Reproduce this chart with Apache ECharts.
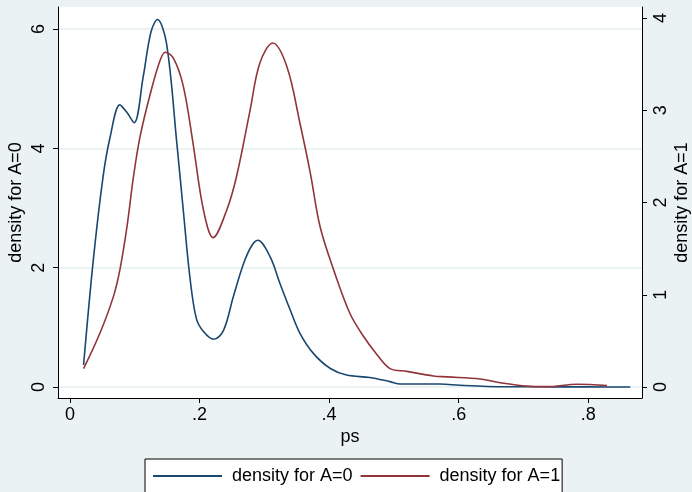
<!DOCTYPE html>
<html>
<head>
<meta charset="utf-8">
<script src="https://cdn.jsdelivr.net/npm/echarts@6/dist/echarts.min.js"></script>
<style>
html,body{margin:0;padding:0;background:#EAF2F3;}
#chart{width:692px;height:492px;}
</style>
</head>
<body>
<div id="chart"></div>
<script>
// density for A=0 (left axis)
var blueX = [0.021,0.036,0.051,0.062,0.077,0.088,0.099,0.113,0.125,0.135,0.149,0.165,0.175,0.185,0.195,0.206,0.222,0.237,0.252,0.268,0.280,0.290,0.309,0.324,0.340,0.355,0.376,0.402,0.427,0.463,0.494,0.510,0.540,0.571,0.602,0.644,0.695,0.750,0.800,0.865];
var blueY = [0.37,2.13,3.52,4.19,4.73,4.60,4.43,5.20,5.95,6.16,5.76,4.08,2.95,1.85,1.15,0.93,0.80,0.95,1.51,2.07,2.36,2.46,2.18,1.74,1.29,0.90,0.56,0.31,0.20,0.16,0.09,0.05,0.05,0.05,0.03,0.01,0.005,0.003,0.002,0.0];
// density for A=1 (right axis)
var redX = [0.021,0.046,0.067,0.077,0.088,0.098,0.108,0.124,0.139,0.147,0.160,0.175,0.190,0.206,0.221,0.242,0.257,0.278,0.293,0.313,0.335,0.355,0.371,0.386,0.407,0.432,0.453,0.474,0.494,0.520,0.561,0.582,0.633,0.664,0.705,0.736,0.783,0.829];
var redY = [0.20,0.58,0.98,1.27,1.74,2.28,2.71,3.18,3.54,3.63,3.56,3.26,2.64,1.92,1.62,1.92,2.28,3.00,3.51,3.73,3.47,2.86,2.32,1.74,1.27,0.80,0.55,0.35,0.20,0.17,0.12,0.11,0.087,0.047,0.01,0.004,0.03,0.015];
var xTicks = [0,0.2,0.4,0.6,0.8];
var leftTicks = [0,2,4,6];
var rightTicks = [0,1,2,3,4];
var seriesNames = ['density for A=0','density for A=1'];

function pairs(xs, ys){ return xs.map(function(x,i){ return [x, ys[i]]; }); }
function fmtX(v){ if (v === 0) return '0'; return String(+v.toFixed(2)).replace(/^0/, ''); }

var font = 'Liberation Sans, Arial, sans-serif';
var fs = 18;
var chart = echarts.init(document.getElementById('chart'), null, {renderer:'canvas'});
chart.setOption({
  backgroundColor: '#EAF2F3',
  animation: false,
  textStyle: {fontFamily: font},
  grid: {left: 58, right: 50, top: 7, bottom: 94, show: true, backgroundColor: '#ffffff', borderWidth: 0, containLabel: false, outerBoundsMode: 'none'},
  xAxis: {
    type: 'value', min: -0.0185, max: 0.883,
    name: 'ps', nameLocation: 'middle', nameGap: 30, nameMoveOverlap: false,
    nameTextStyle: {fontSize: fs, color: '#000', fontFamily: font},
    axisLine: {show: true, onZero: false, lineStyle: {color: '#000', width: 1}},
    axisTick: {show: true, length: 5, lineStyle: {color: '#000'}, customValues: xTicks},
    axisLabel: {fontSize: fs, color: '#000', margin: 8, fontFamily: font, customValues: xTicks, formatter: fmtX},
    splitLine: {show: false}
  },
  yAxis: [{
    type: 'value', min: -0.184, max: 6.37, position: 'left',
    name: seriesNames[0], nameLocation: 'middle', nameGap: 42, nameRotate: 90, nameMoveOverlap: false,
    nameTextStyle: {fontSize: fs, color: '#000', fontFamily: font, verticalAlign: 'middle'},
    axisLine: {show: true, onZero: false, lineStyle: {color: '#000', width: 1}},
    axisTick: {show: true, length: 5, lineStyle: {color: '#000'}, customValues: leftTicks},
    axisLabel: {fontSize: fs, color: '#000', margin: 10, rotate: 90, fontFamily: font, customValues: leftTicks},
    splitLine: {show: true, lineStyle: {color: '#E4EEF1', width: 1.5}}
  },{
    type: 'value', min: -0.119, max: 4.12, position: 'right',
    name: seriesNames[1], nameLocation: 'middle', nameGap: 40, nameRotate: 90, nameMoveOverlap: false,
    nameTextStyle: {fontSize: fs, color: '#000', fontFamily: font, verticalAlign: 'middle'},
    axisLine: {show: true, onZero: false, lineStyle: {color: '#000', width: 1}},
    axisTick: {show: true, length: 5, lineStyle: {color: '#000'}, customValues: rightTicks},
    axisLabel: {fontSize: fs, color: '#000', margin: 10, rotate: 90, fontFamily: font, customValues: rightTicks},
    splitLine: {show: false}
  }],
  legend: {
    left: 145, top: 459,
    backgroundColor: '#ffffff', borderColor: '#000', borderWidth: 1, borderRadius: 0,
    padding: [8, 2, 14, 8],
    itemWidth: 69, itemHeight: 2, itemGap: 8,
    icon: 'rect',
    textStyle: {fontSize: fs, color: '#000', fontFamily: font, padding: [0, 0, 0, 5]},
    data: seriesNames
  },
  series: [{
    name: seriesNames[0], type: 'line', yAxisIndex: 0,
    data: pairs(blueX, blueY), smooth: 0.35, symbol: 'none',
    lineStyle: {color: '#1A476F', width: 1.6}, itemStyle: {color: '#1A476F'}
  },{
    name: seriesNames[1], type: 'line', yAxisIndex: 1,
    data: pairs(redX, redY), smooth: 0.35, symbol: 'none',
    lineStyle: {color: '#90353B', width: 1.6}, itemStyle: {color: '#90353B'}
  }]
});
</script>
</body>
</html>
